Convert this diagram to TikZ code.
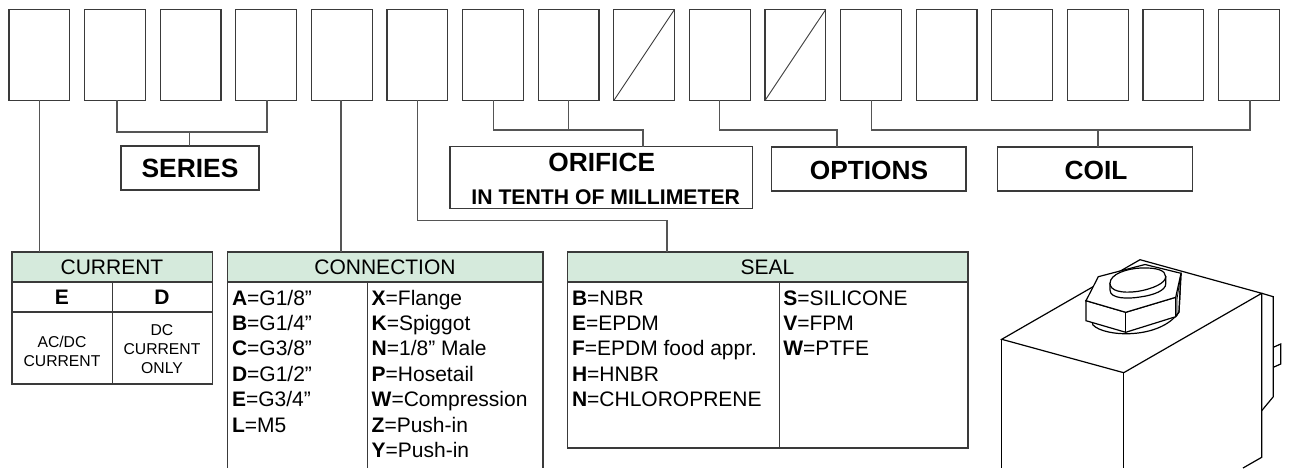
\documentclass[tikz,border=0pt]{standalone}
\usepackage{fontspec}
\setmainfont{Liberation Sans}
\definecolor{ln}{HTML}{3A3A3A}
\definecolor{cn}{HTML}{555555}
\definecolor{hdr}{HTML}{D5EADC}
\tikzset{
  cell/.style={draw=ln,line width=1.2pt,rectangle,inner sep=0pt,outer sep=0pt},
  topbox/.style={cell,minimum width=60.7pt,minimum height=91pt},
  lab/.style={cell,font=\fontsize{26.3}{30}\selectfont\bfseries},
  hd/.style={cell,fill=hdr},
  txt/.style={inner sep=0pt,outer sep=0pt,anchor=base,font=\fontsize{21}{25}\selectfont},
  row/.style={inner sep=0pt,outer sep=0pt,anchor=base west,font=\fontsize{21}{25}\selectfont},
  sm/.style={inner sep=0pt,outer sep=0pt,align=center,font=\fontsize{15.7}{18.8}\selectfont},
  conn/.style={draw=cn,line width=1.1pt},
  valve/.style={draw=black,line width=1.2pt,line join=miter},
}
\newcommand{\kv}[2]{\textbf{#1}=#2}
\begin{document}
\begin{tikzpicture}[x=1pt,y=-1pt]
\useasboundingbox (0,0) rectangle (1289,468);
% top boxes
\foreach \i in {0,...,16}{
  \node[topbox] (b\i) at ({39.35+75.6*\i},55) {};
}
\draw[draw=ln,line width=0.9pt] (b8.south west) -- (b8.north east);
\draw[draw=ln,line width=0.9pt] (b10.south west) -- (b10.north east);
% labels
\node[lab,minimum width=138pt,minimum height=44pt] (series) at (190,168) {};
\node[txt,font=\fontsize{26.4}{30}\selectfont\bfseries] (seriest) at (190,177.7) {SERIES};
\node[cell,minimum width=302.7pt,minimum height=62pt] (orifice) at (601.35,177.5) {};
\node[txt,font=\fontsize{26.3}{30}\selectfont\bfseries] (orit) at (601.7,171.5) {ORIFICE};
\node[txt,font=\fontsize{21.2}{25}\selectfont\bfseries] (orit2) at (605.7,204.5) {IN TENTH OF MILLIMETER};
\node[lab,minimum width=194.5pt,minimum height=44pt] (options) at (868.75,169) {};
\node[txt,font=\fontsize{26.3}{30}\selectfont\bfseries] (optt) at (869,179) {OPTIONS};
\node[lab,minimum width=195pt,minimum height=44pt] (coil) at (1095,169) {};
\node[txt,font=\fontsize{26.3}{30}\selectfont\bfseries] (coilt) at (1096,179) {COIL};
% CURRENT table
\node[hd,minimum width=200.7pt,minimum height=30pt] (current) at (112.35,267) {};
\node[txt] (currentt) at (112,274.5) {CURRENT};
\node[cell,minimum width=100.35pt,minimum height=30pt] (ehead) at (62.2,297) {};
\node[cell,minimum width=100.35pt,minimum height=30pt] (dhead) at (162.5,297) {};
\node[txt,font=\fontsize{21}{25}\selectfont\bfseries] (et) at (62,304.5) {E};
\node[txt,font=\fontsize{21}{25}\selectfont\bfseries] (dt) at (162,304.5) {D};
\node[cell,minimum width=100.35pt,minimum height=72pt] (ebody) at (62.2,348) {};
\node[cell,minimum width=100.35pt,minimum height=72pt] (dbody) at (162.5,348) {};
\node[sm] (et2) at (62,351) {AC/DC\\CURRENT};
\node[sm] (dt2) at (162,349) {DC\\CURRENT\\ONLY};
% CONNECTION table
\node[hd,minimum width=315.5pt,minimum height=30pt] (connection) at (385.25,267) {};
\node[txt] (connectiont) at (385,274.5) {CONNECTION};
\coordinate (cb1) at (227.5,468);
\coordinate (cb2) at (367.5,468);
\coordinate (cb3) at (543,468);
\draw[draw=ln,line width=1.2pt] (connection.south west) -- (cb1);
\draw[draw=ln,line width=1.2pt] (cb2 |- connection.south) -- (cb2);
\draw[draw=ln,line width=1.2pt] (connection.south east) -- (cb3);
\node[row] (c1) at (232,305) {\kv{A}{G1/8”}};
\node[row] (c2) at (232,330.4) {\kv{B}{G1/4”}};
\node[row] (c3) at (232,355.8) {\kv{C}{G3/8”}};
\node[row] (c4) at (232,381.2) {\kv{D}{G1/2”}};
\node[row] (c5) at (232,406.6) {\kv{E}{G3/4”}};
\node[row] (c6) at (232,432) {\kv{L}{M5}};
\node[row] (d1) at (371.7,305) {\kv{X}{Flange}};
\node[row] (d2) at (371.7,330.4) {\kv{K}{Spiggot}};
\node[row] (d3) at (371.7,355.8) {\kv{N}{1/8” Male}};
\node[row] (d4) at (371.7,381.2) {\kv{P}{Hosetail}};
\node[row] (d5) at (371.7,406.6) {\kv{W}{Compression}};
\node[row] (d6) at (371.7,432) {\kv{Z}{Push-in}};
\node[row] (d7) at (371.7,457.4) {\kv{Y}{Push-in}};
% SEAL table
\node[hd,minimum width=400.5pt,minimum height=30pt] (seal) at (767.75,267) {};
\node[txt] (sealt) at (767.5,274.5) {SEAL};
\node[cell,minimum width=212pt,minimum height=166pt] (s1) at (673.5,365) {};
\node[cell,minimum width=188.5pt,minimum height=166pt] (s2) at (873.75,365) {};
\node[row] (e1) at (572,305) {\kv{B}{NBR}};
\node[row] (e2) at (572,330.4) {\kv{E}{EPDM}};
\node[row] (e3) at (572,355.8) {\kv{F}{EPDM food appr.}};
\node[row] (e4) at (572,381.2) {\kv{H}{HNBR}};
\node[row] (e5) at (572,406.6) {\kv{N}{CHLOROPRENE}};
\node[row] (f1) at (783.3,305) {\kv{S}{SILICONE}};
\node[row] (f2) at (783.3,330.4) {\kv{V}{FPM}};
\node[row] (f3) at (783.3,355.8) {\kv{W}{PTFE}};
% connectors
\draw[conn] (b0.south) -- (b0.south |- current.north);
\draw[conn] ([xshift=2pt]b1.south) -- ++(0,31.5) -| ([xshift=0.85pt]b3.south);
\draw[conn] ([xshift=-0.5pt]series.north) -- ++(0,-14);
\draw[conn] ([xshift=-0.75pt]b4.south) -- ([xshift=-0.75pt]b4.south |- connection.north);
\draw[conn] (b5.south) -- ++(0,120) -| ([xshift=-100.75pt]seal.north);
\draw[conn] ([xshift=0.5pt]b6.south) -- ++(0,29.5) -| ([xshift=41.65pt]orifice.north);
\draw[conn] (b7.south) -- ++(0,29.5);
\draw[conn] (b9.south) -- ++(0,29.5) -| ([xshift=-31.75pt]options.north);
\draw[conn] ([xshift=0.75pt]b11.south) -- ++(0,29.5) -| ([xshift=1pt]b16.south);
\draw[conn] ([xshift=3pt]coil.north) -- ++(0,-17);
% valve drawing
\draw[valve] (1140,259.7) -- (1001.7,339.3) -- (1123.7,372.7) -- (1261.7,293.3) -- cycle;
\draw[valve] (1001.7,339.3) -- (1001.7,468);
\draw[valve] (1123.7,372.7) -- (1123.7,468);
\draw[valve] (1261.7,293.3) -- (1261.7,457.3) -- (1243,468);
\draw[valve] (1261.7,293.3) -- (1273.3,296.7) -- (1273.3,396.7) -- (1261.7,410.7);
\draw[valve] (1273.3,347.3) -- (1280.7,344) -- (1280.7,364) -- (1273.3,367.3);
% washer
\draw[valve,fill=white] (1093,325) .. controls (1104,337) and (1160,340) .. (1179,312) -- (1181,273.3) -- (1086,300.7) -- cycle;
% nut
\draw[valve,fill=white] (1086,300.7) -- (1086,320.7) -- (1125.7,332.3) -- (1175.7,316.7) -- (1175.7,297.3) -- (1125.7,312.3) -- cycle;
\draw[valve] (1125.7,312.3) -- (1125.7,332.3);
\draw[valve] (1181,273.3) -- (1179,312) -- (1175.7,316.7);
\draw[valve,fill=white] (1086,300.7) -- (1098.3,276.7) -- (1145,264.5) -- (1181,273.3) -- (1175.7,297.3) -- (1125.7,312.3) -- cycle;
\draw[valve,line width=0.8pt] (1181,273.3) -- (1177,299) -- (1177,316);
% cap
\draw[valve,fill=white] (1110,283.3) -- (1110,290) .. controls (1110,299) and (1128,299) .. (1140,297) .. controls (1155,295) and (1165.7,290) .. (1165.7,284) -- (1165.7,276.7) -- cycle;
\draw[valve,fill=white] (1110,283.3) .. controls (1110,274) and (1127,268.5) .. (1141,268) .. controls (1156,267.5) and (1165.7,270) .. (1165.7,276.7) .. controls (1165.7,283) and (1153,289) .. (1137,291.5) .. controls (1122,293.5) and (1110,291) .. (1110,283.3) -- cycle;
\end{tikzpicture}
\end{document}
